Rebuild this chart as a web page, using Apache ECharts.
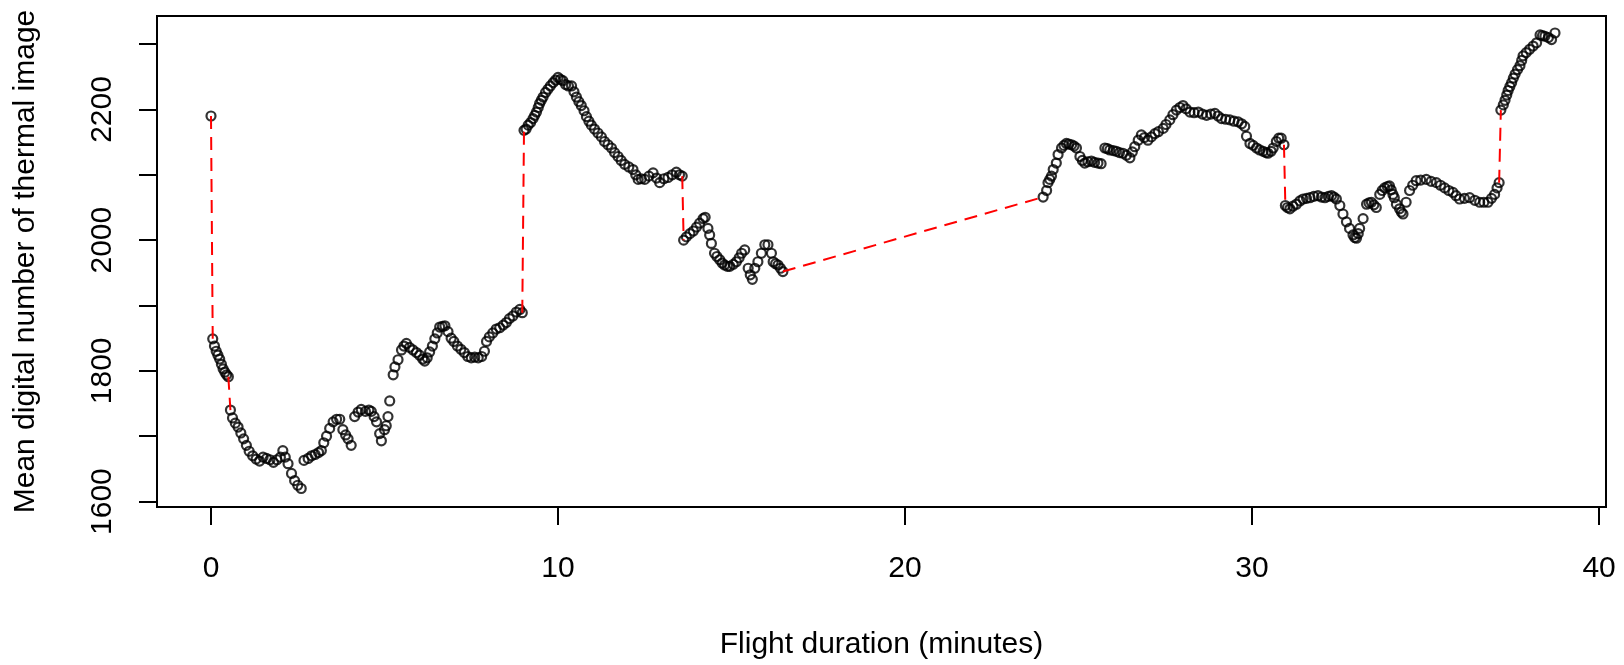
<!DOCTYPE html>
<html>
<head>
<meta charset="utf-8">
<title>Mean digital number vs flight duration</title>
<script src="https://cdn.jsdelivr.net/npm/echarts@6/dist/echarts.min.js"></script>
<style>
  html, body { margin: 0; padding: 0; background: #fff; }
  #chart { width: 1624px; height: 665px; }
</style>
</head>
<body>
<div id="chart"></div>
<script>
  // flight segments, [minutes, mean DN]
  var seg1 = [[0, 2190]];
  var seg2 = [[0.05, 1849], [0.1, 1838], [0.15, 1830], [0.2, 1824], [0.25, 1818], [0.3, 1810], [0.35, 1803], [0.4, 1798], [0.45, 1794], [0.5, 1791]];
  var seg3 = [
    [0.56, 1740], [0.62, 1728], [0.7, 1720], [0.78, 1714], [0.86, 1705], [0.94, 1696], [1.02, 1686], [1.1, 1677], [1.2, 1670],
    [1.3, 1665], [1.4, 1662], [1.5, 1668], [1.6, 1666], [1.7, 1664], [1.8, 1660], [1.9, 1664], [2.0, 1668], [2.07, 1678],
    [2.14, 1668], [2.22, 1658], [2.32, 1643], [2.41, 1632], [2.5, 1625], [2.6, 1620], [2.68, 1663], [2.8, 1666], [2.9, 1670],
    [3.0, 1672], [3.1, 1675], [3.18, 1678], [3.25, 1690], [3.33, 1700], [3.42, 1712], [3.52, 1722], [3.62, 1726], [3.71, 1726],
    [3.8, 1710], [3.88, 1702], [3.95, 1696], [4.04, 1686], [4.14, 1730], [4.24, 1737], [4.33, 1741], [4.45, 1738], [4.55, 1740],
    [4.62, 1738], [4.7, 1730], [4.77, 1722], [4.86, 1704], [4.91, 1693], [5.0, 1710], [5.05, 1716], [5.1, 1730], [5.15, 1754],
    [5.25, 1794], [5.3, 1806], [5.39, 1817], [5.49, 1832], [5.56, 1838], [5.63, 1842], [5.72, 1836], [5.82, 1832], [5.92, 1828],
    [6.01, 1824], [6.1, 1818], [6.16, 1815], [6.23, 1820], [6.3, 1829], [6.38, 1838], [6.45, 1849], [6.52, 1858], [6.59, 1867],
    [6.67, 1868], [6.74, 1869], [6.83, 1860], [6.92, 1850], [7.0, 1845], [7.1, 1838], [7.2, 1833], [7.3, 1828], [7.4, 1822],
    [7.5, 1820], [7.6, 1821], [7.7, 1820], [7.8, 1822], [7.88, 1830], [7.94, 1845], [8.02, 1852], [8.12, 1858], [8.22, 1864],
    [8.32, 1866], [8.42, 1870], [8.51, 1874], [8.6, 1880], [8.7, 1884], [8.8, 1890], [8.9, 1894], [8.97, 1889]
  ];
  var seg4 = [
    [9.02, 2168], [9.08, 2170], [9.14, 2176], [9.21, 2180], [9.28, 2186], [9.33, 2191], [9.38, 2196], [9.43, 2203], [9.47, 2209],
    [9.52, 2214], [9.57, 2219], [9.64, 2226], [9.71, 2231], [9.78, 2236], [9.86, 2241], [9.93, 2245], [10.0, 2249], [10.07, 2246],
    [10.14, 2244], [10.22, 2238], [10.3, 2236], [10.39, 2236], [10.46, 2227], [10.53, 2219], [10.6, 2212], [10.67, 2206],
    [10.75, 2198], [10.82, 2189], [10.89, 2182], [10.96, 2176], [11.05, 2170], [11.15, 2164], [11.25, 2158], [11.34, 2151],
    [11.44, 2146], [11.54, 2141], [11.63, 2134], [11.73, 2128], [11.82, 2122], [11.92, 2116], [12.04, 2112], [12.16, 2108],
    [12.24, 2100], [12.31, 2093], [12.4, 2094], [12.5, 2093], [12.62, 2098], [12.74, 2103], [12.84, 2095], [12.93, 2088],
    [13.05, 2094], [13.17, 2096], [13.29, 2100], [13.41, 2104], [13.5, 2100], [13.58, 2098]
  ];
  var seg5 = [
    [13.62, 2000], [13.7, 2005], [13.8, 2010], [13.9, 2014], [13.99, 2020], [14.08, 2026], [14.18, 2033], [14.24, 2035],
    [14.32, 2018], [14.37, 2008], [14.42, 1995], [14.51, 1980], [14.58, 1975], [14.66, 1970], [14.73, 1965], [14.8, 1962],
    [14.88, 1960], [14.95, 1960], [15.05, 1963], [15.14, 1967], [15.22, 1973], [15.29, 1980], [15.38, 1985], [15.48, 1957],
    [15.54, 1947], [15.6, 1940], [15.67, 1957], [15.76, 1967], [15.86, 1980], [15.96, 1993], [16.05, 1993], [16.15, 1980],
    [16.2, 1967], [16.27, 1964], [16.34, 1962], [16.41, 1957], [16.48, 1952]
  ];
  var seg6 = [
    [23.98, 2066], [24.08, 2076], [24.12, 2088], [24.17, 2093], [24.22, 2098], [24.27, 2108], [24.36, 2118], [24.41, 2131],
    [24.51, 2141], [24.58, 2145], [24.65, 2148], [24.72, 2147], [24.8, 2146], [24.87, 2144], [24.94, 2141], [25.04, 2128],
    [25.11, 2122], [25.18, 2118], [25.27, 2120], [25.37, 2121], [25.46, 2119], [25.56, 2118], [25.65, 2117], [25.76, 2141],
    [25.83, 2140], [25.9, 2138], [26.0, 2137], [26.09, 2136], [26.18, 2134], [26.28, 2133], [26.38, 2130], [26.48, 2126],
    [26.55, 2135], [26.62, 2143], [26.72, 2153], [26.81, 2161], [26.9, 2157], [27.0, 2153], [27.1, 2158], [27.2, 2163],
    [27.3, 2166], [27.44, 2171], [27.52, 2177], [27.63, 2184], [27.72, 2192], [27.82, 2199], [27.92, 2203], [28.01, 2206],
    [28.1, 2201], [28.21, 2196], [28.33, 2195], [28.45, 2196], [28.57, 2193], [28.69, 2191], [28.81, 2193], [28.93, 2194],
    [29.02, 2190], [29.12, 2186], [29.24, 2185], [29.36, 2184], [29.48, 2182], [29.6, 2181], [29.7, 2178], [29.79, 2174],
    [29.84, 2159], [29.94, 2148], [30.03, 2145], [30.13, 2141], [30.22, 2138], [30.32, 2136], [30.4, 2134], [30.46, 2133],
    [30.55, 2136], [30.61, 2141], [30.7, 2151], [30.77, 2156], [30.84, 2156], [30.92, 2146]
  ];
  var seg7 = [
    [30.96, 2053], [31.02, 2050], [31.09, 2048], [31.18, 2052], [31.28, 2055], [31.38, 2060], [31.47, 2063], [31.57, 2064],
    [31.67, 2065], [31.78, 2067], [31.9, 2068], [32.0, 2066], [32.1, 2065], [32.2, 2067], [32.29, 2068], [32.36, 2066],
    [32.43, 2063], [32.53, 2053], [32.62, 2040], [32.72, 2028], [32.81, 2018], [32.91, 2008], [32.96, 2004], [33.01, 2003],
    [33.06, 2010], [33.1, 2018], [33.2, 2033], [33.3, 2055], [33.37, 2057], [33.44, 2058], [33.51, 2054], [33.58, 2050],
    [33.68, 2070], [33.75, 2076], [33.82, 2080], [33.9, 2082], [33.96, 2083], [34.01, 2077], [34.06, 2070], [34.1, 2065],
    [34.16, 2055], [34.25, 2048], [34.3, 2043], [34.35, 2040], [34.44, 2058], [34.54, 2076], [34.63, 2084], [34.73, 2091],
    [34.86, 2092], [35.02, 2093], [35.16, 2090], [35.31, 2088], [35.43, 2084], [35.55, 2080], [35.67, 2076], [35.79, 2073],
    [35.88, 2068], [35.98, 2063], [36.12, 2064], [36.27, 2065], [36.42, 2061], [36.56, 2058], [36.68, 2058], [36.8, 2058],
    [36.9, 2064], [36.99, 2070], [37.06, 2080], [37.12, 2088]
  ];
  var seg8 = [
    [37.17, 2199], [37.24, 2207], [37.29, 2214], [37.34, 2222], [37.38, 2229], [37.43, 2235], [37.48, 2241], [37.53, 2248],
    [37.58, 2254], [37.65, 2261], [37.72, 2267], [37.77, 2275], [37.81, 2282], [37.9, 2287], [38.0, 2292], [38.1, 2297],
    [38.2, 2302], [38.3, 2314], [38.37, 2313], [38.44, 2312], [38.54, 2310], [38.63, 2307], [38.73, 2317]
  ];
  var segments = [seg1, seg2, seg3, seg4, seg5, seg6, seg7, seg8];

  var xTicks = [0, 10, 20, 30, 40];
  var yTicks = [1600, 1700, 1800, 1900, 2000, 2100, 2200, 2300];
  var yLabels = [1600, 1800, 2000, 2200];

  var font = 'Liberation Sans, Arial, sans-serif';

  var series = [];
  // points of all segments as open circles
  var allPoints = [];
  segments.forEach(function (s) { allPoints = allPoints.concat(s); });
  series.push({
    type: 'scatter',
    data: allPoints,
    symbol: 'circle',
    symbolSize: 9,
    itemStyle: { color: 'rgba(0,0,0,0)', borderColor: '#000', borderWidth: 2.2 },
    silent: true,
    z: 2
  });
  // red dashed joins between the end of one segment and the start of the next
  for (var i = 0; i < segments.length - 1; i++) {
    var a = segments[i][segments[i].length - 1];
    var b = segments[i + 1][0];
    series.push({
      type: 'line',
      data: [a, b],
      showSymbol: false,
      lineStyle: { color: '#ff0000', width: 2, type: [13, 8] },
      silent: true,
      z: 3
    });
  }

  var chart = echarts.init(document.getElementById('chart'), null, { renderer: 'canvas' });
  chart.setOption({
    animation: false,
    backgroundColor: '#fff',
    grid: {
      left: 157, top: 16, width: 1449, height: 498,
      show: true, borderColor: '#000', borderWidth: 2, backgroundColor: 'transparent'
    },
    xAxis: {
      type: 'value',
      min: -1.556,
      max: 40.2,
      name: 'Flight duration (minutes)',
      nameLocation: 'middle',
      nameGap: 123,
      nameTextStyle: { fontFamily: font, fontSize: 30, color: '#000' },
      axisLine: { show: false, onZero: false },
      axisTick: { show: true, customValues: xTicks, length: 18, lineStyle: { color: '#000', width: 2 } },
      axisLabel: {
        customValues: xTicks, fontFamily: font, fontSize: 30, color: '#000', margin: 47,
        formatter: function (v) { return String(v); }
      },
      splitLine: { show: false }
    },
    yAxis: {
      type: 'value',
      min: 1591.7,
      max: 2343,
      name: 'Mean digital number of thermal image',
      nameLocation: 'middle',
      nameGap: 116,
      nameTextStyle: { fontFamily: font, fontSize: 30, color: '#000' },
      axisLine: { show: false, onZero: false },
      axisTick: { show: true, customValues: yTicks, length: 18, lineStyle: { color: '#000', width: 2 } },
      axisLabel: {
        customValues: yLabels, rotate: 90, fontFamily: font, fontSize: 30, color: '#000', margin: 39,
        formatter: function (v) { return String(v); }
      },
      splitLine: { show: false }
    },
    series: series
  });
</script>
</body>
</html>
